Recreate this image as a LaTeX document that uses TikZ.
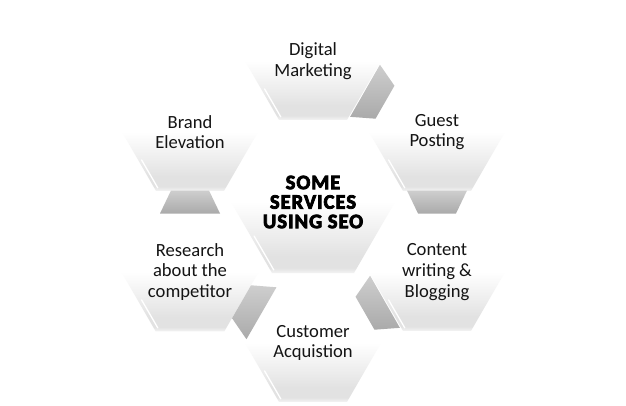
\documentclass[tikz,border=0pt]{standalone}
\usepackage{fontspec}
\setmainfont{Carlito}
\newfontfamily\seofont{Carlito}[LetterSpace=5,BoldFeatures={FakeBold=4}]
\usetikzlibrary{shapes.geometric,calc}
\definecolor{hexgrey}{RGB}{226,226,226}
\definecolor{hexstrip}{RGB}{244,244,244}
\definecolor{conntop}{RGB}{206,206,206}
\definecolor{connbot}{RGB}{170,170,170}
\definecolor{txt}{RGB}{20,20,20}
\pgfdeclareverticalshading{hexshade}{100bp}{color(0bp)=(hexstrip); color(25bp)=(hexstrip); color(26.8bp)=(hexgrey); color(31bp)=(hexgrey); color(50bp)=(white); color(100bp)=(white)}
\newcommand{\seoconn}[2]{%
  \coordinate (m) at ($(#1)!0.5!(#2)$);
  \coordinate (w) at ($(m)!11.5pt!(#1)$);
  \coordinate (n) at ($(m)!11.5pt!(#2)$);
  \path[connfill] ($(w)!30pt!90:(#2)$) -- ($(w)!30pt!-90:(#2)$) -- ($(n)!19pt!90:(#1)$) -- ($(n)!19pt!-90:(#1)$) -- cycle;}
\newcommand{\hexbevel}[2]{%
  \draw[bevel] ($(#1)+({-0.75*#2+2.6},{0.433*#2-1.5})$) -- ($(#1)+({-0.5*#2+1.8},{0.866*#2-3})$);}
\begin{document}
\begin{tikzpicture}[x=1pt,y=-1pt,
  hexbox/.style={regular polygon, regular polygon sides=6, shade, shading=hexshade, draw=none,
    inner sep=0pt, outer sep=0pt, align=center, text=txt, font=\fontsize{18.6}{20.6}\selectfont},
  outerhex/.style={hexbox, minimum size=136pt},
  centerhex/.style={hexbox, minimum size=164pt, text=black,
    font=\seofont\bfseries\fontsize{20.5}{19.5}\selectfont},
  connfill/.style={top color=conntop, bottom color=connbot, draw=none},
  bevel/.style={draw=white, line width=1.3pt, line cap=round}]
\fill[white] (0,0) rectangle (626,405);
\useasboundingbox (0,0) rectangle (626,405);
% hexagons
\node[centerhex] (C) at (313,202) {SOME\\SERVICES\\USING SEO};
\node[outerhex] (T) at (313,61) {Digital\\Marketing};
\node[outerhex] (U) at (437,132) {Guest\\Posting};
\node[outerhex] (R) at (437,272) {Content\\writing \&\\Blogging};
\node[outerhex] (B) at (313,343) {Customer\\Acquistion};
\node[outerhex] (L) at (190,272) {Research\\about the\\competitor};
\node[outerhex] (K) at (190,132) {Brand\\Elevation};
% bevel highlights
\hexbevel{C}{82}
\hexbevel{T}{68}
\hexbevel{U}{68}
\hexbevel{R}{68}
\hexbevel{B}{68}
\hexbevel{L}{68}
\hexbevel{K}{68}
% connectors
\seoconn{T}{U}
\seoconn{U}{R}
\seoconn{R}{B}
\seoconn{B}{L}
\seoconn{L}{K}
\end{tikzpicture}
\end{document}
